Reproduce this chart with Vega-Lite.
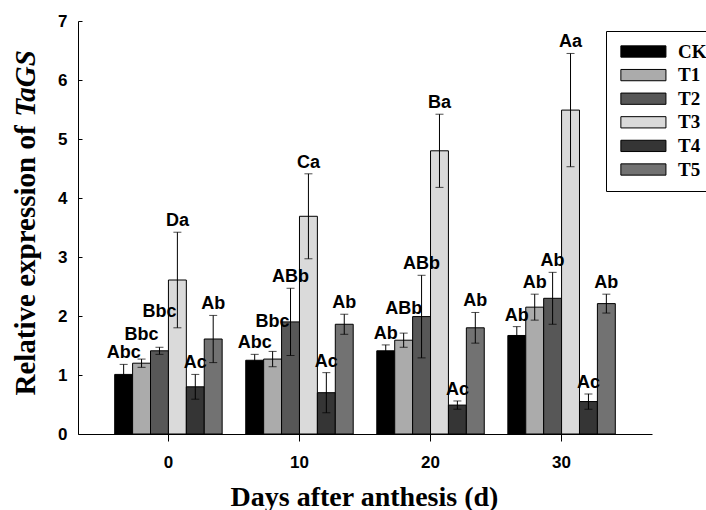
{
  "$schema": "https://vega.github.io/schema/vega-lite/v6.json",
  "width": 574,
  "height": 413,
  "autosize": "none",
  "padding": {"left": 78, "top": 21, "right": 54, "bottom": 76},
  "background": "white",
  "config": {
    "view": {"stroke": null},
    "font": "Liberation Sans",
    "axis": {"grid": false, "domainColor": "black", "tickColor": "black", "labelColor": "black", "titleColor": "black"}
  },
  "data": {
    "values": [
      {"day": 0, "trt": "CK", "mean": 1.01, "err": 0.17, "label": "Abc"},
      {"day": 0, "trt": "T1", "mean": 1.20, "err": 0.07, "label": "Bbc"},
      {"day": 0, "trt": "T2", "mean": 1.41, "err": 0.06, "label": "Bbc"},
      {"day": 0, "trt": "T3", "mean": 2.61, "err": 0.81, "label": "Da"},
      {"day": 0, "trt": "T4", "mean": 0.80, "err": 0.21, "label": "Ac"},
      {"day": 0, "trt": "T5", "mean": 1.61, "err": 0.40, "label": "Ab"},
      {"day": 10, "trt": "CK", "mean": 1.25, "err": 0.10, "label": "Abc"},
      {"day": 10, "trt": "T1", "mean": 1.27, "err": 0.13, "label": "Bbc"},
      {"day": 10, "trt": "T2", "mean": 1.90, "err": 0.57, "label": "ABb"},
      {"day": 10, "trt": "T3", "mean": 3.69, "err": 0.72, "label": "Ca"},
      {"day": 10, "trt": "T4", "mean": 0.70, "err": 0.34, "label": "Ac"},
      {"day": 10, "trt": "T5", "mean": 1.86, "err": 0.17, "label": "Ab"},
      {"day": 20, "trt": "CK", "mean": 1.41, "err": 0.10, "label": "Ab"},
      {"day": 20, "trt": "T1", "mean": 1.59, "err": 0.12, "label": "ABb"},
      {"day": 20, "trt": "T2", "mean": 1.99, "err": 0.70, "label": "ABb"},
      {"day": 20, "trt": "T3", "mean": 4.80, "err": 0.62, "label": "Ba"},
      {"day": 20, "trt": "T4", "mean": 0.49, "err": 0.07, "label": "Ac"},
      {"day": 20, "trt": "T5", "mean": 1.80, "err": 0.26, "label": "Ab"},
      {"day": 30, "trt": "CK", "mean": 1.67, "err": 0.15, "label": "Ab"},
      {"day": 30, "trt": "T1", "mean": 2.15, "err": 0.22, "label": "Ab"},
      {"day": 30, "trt": "T2", "mean": 2.30, "err": 0.44, "label": "Ab"},
      {"day": 30, "trt": "T3", "mean": 5.49, "err": 0.96, "label": "Aa"},
      {"day": 30, "trt": "T4", "mean": 0.55, "err": 0.13, "label": "Ac"},
      {"day": 30, "trt": "T5", "mean": 2.21, "err": 0.16, "label": "Ab"}
    ]
  },
  "transform": [
    {"calculate": "datum.mean + datum.err", "as": "hi"},
    {"calculate": "datum.mean - datum.err", "as": "lo"}
  ],
  "encoding": {
    "x": {
      "field": "day", "type": "ordinal",
      "scale": {"paddingInner": 0.18, "paddingOuter": 0.28},
      "axis": {
        "title": "Days after anthesis (d)",
        "labelAngle": 0, "tickSize": 7, "labelPadding": 13,
        "labelFont": "Liberation Sans", "labelFontSize": 17, "labelFontWeight": "bold",
        "titleFont": "Liberation Serif", "titleFontSize": 28, "titleFontWeight": "bold",
        "titleX": 286, "titleY": 71, "titleBaseline": "alphabetic", "titleAlign": "center"
      }
    },
    "xOffset": {"field": "trt", "type": "nominal", "scale": {"paddingInner": 0, "paddingOuter": 0}}
  },
  "layer": [
    {
      "mark": {"type": "bar", "stroke": "black", "strokeWidth": 1},
      "encoding": {
        "y": {
          "field": "mean", "type": "quantitative",
          "scale": {"domain": [0, 7], "nice": false},
          "axis": {
            "orient": "left",
            "title": "Relative expression of",
            "values": [0, 1, 2, 3, 4, 5, 6, 7],
            "tickSize": -4, "labelPadding": 15,
            "labelFont": "Liberation Sans", "labelFontSize": 17, "labelFontWeight": "bold",
            "titleFont": "Liberation Serif", "titleFontSize": 29, "titleFontWeight": "bold",
            "titleAngle": 270, "titleX": -44, "titleY": 239, "titleBaseline": "alphabetic", "titleAlign": "center"
          }
        },
        "fill": {
          "field": "trt", "type": "nominal",
          "scale": {"domain": ["CK", "T1", "T2", "T3", "T4", "T5"], "range": ["#000000", "#ababab", "#575757", "#dadada", "#353535", "#727272"]},
          "legend": {
            "title": null, "orient": "none", "legendX": 528, "legendY": 10,
            "strokeColor": "black", "fillColor": "white", "padding": 11,
            "symbolType": "M-1,-1H7V1H-1Z", "symbolSize": 127,
            "symbolStrokeColor": "black", "symbolStrokeWidth": 1, "symbolOpacity": 1,
            "labelFont": "Liberation Serif", "labelFontSize": 19, "labelFontWeight": "bold", "labelColor": "black",
            "labelOffset": 42, "rowPadding": 3.6
          }
        }
      }
    },
    {
      "mark": {"type": "rule", "color": "black", "strokeWidth": 1},
      "encoding": {
        "y": {
          "field": "lo", "type": "quantitative",
          "scale": {"domain": [0, 7], "nice": false},
          "axis": {
            "orient": "left",
            "title": "TaGS", "labels": false, "ticks": false, "domain": false,
            "titleFont": "Liberation Serif", "titleFontSize": 29, "titleFontWeight": "bold", "titleFontStyle": "italic",
            "titleAngle": 270, "titleX": -44, "titleY": 62, "titleBaseline": "alphabetic", "titleAlign": "center"
          }
        },
        "y2": {"field": "hi"}
      }
    },
    {
      "mark": {"type": "tick", "orient": "horizontal", "size": 8, "thickness": 1, "color": "black"},
      "encoding": {"y": {"field": "hi", "type": "quantitative", "scale": {"domain": [0, 7], "nice": false}, "axis": null}}
    },
    {
      "mark": {"type": "tick", "orient": "horizontal", "size": 8, "thickness": 1, "color": "black"},
      "encoding": {"y": {"field": "lo", "type": "quantitative", "scale": {"domain": [0, 7], "nice": false}, "axis": null}}
    },
    {
      "transform": [{"filter": "!(datum.trt == 'T1' && datum.day != 30) && !(datum.trt == 'T2' && datum.day == 0)"}],
      "mark": {"type": "text", "font": "Liberation Sans", "fontWeight": "bold", "fontSize": 18, "baseline": "middle", "dy": -11, "color": "black"},
      "encoding": {"y": {"field": "hi", "type": "quantitative", "scale": {"domain": [0, 7], "nice": false}, "axis": null}, "text": {"field": "label"}}
    },
    {
      "transform": [{"filter": "datum.trt == 'T1' && (datum.day == 0 || datum.day == 20)"}],
      "mark": {"type": "text", "font": "Liberation Sans", "fontWeight": "bold", "fontSize": 18, "baseline": "middle", "dy": -24, "color": "black"},
      "encoding": {"y": {"field": "hi", "type": "quantitative", "scale": {"domain": [0, 7], "nice": false}, "axis": null}, "text": {"field": "label"}}
    },
    {
      "transform": [{"filter": "datum.trt == 'T1' && datum.day == 10"}],
      "mark": {"type": "text", "font": "Liberation Sans", "fontWeight": "bold", "fontSize": 18, "baseline": "middle", "dy": -29, "color": "black"},
      "encoding": {"y": {"field": "hi", "type": "quantitative", "scale": {"domain": [0, 7], "nice": false}, "axis": null}, "text": {"field": "label"}}
    },
    {
      "transform": [{"filter": "datum.trt == 'T2' && datum.day == 0"}],
      "mark": {"type": "text", "font": "Liberation Sans", "fontWeight": "bold", "fontSize": 18, "baseline": "middle", "dy": -35, "color": "black"},
      "encoding": {"y": {"field": "hi", "type": "quantitative", "scale": {"domain": [0, 7], "nice": false}, "axis": null}, "text": {"field": "label"}}
    }
  ],
  "resolve": {"axis": {"y": "independent"}}
}
